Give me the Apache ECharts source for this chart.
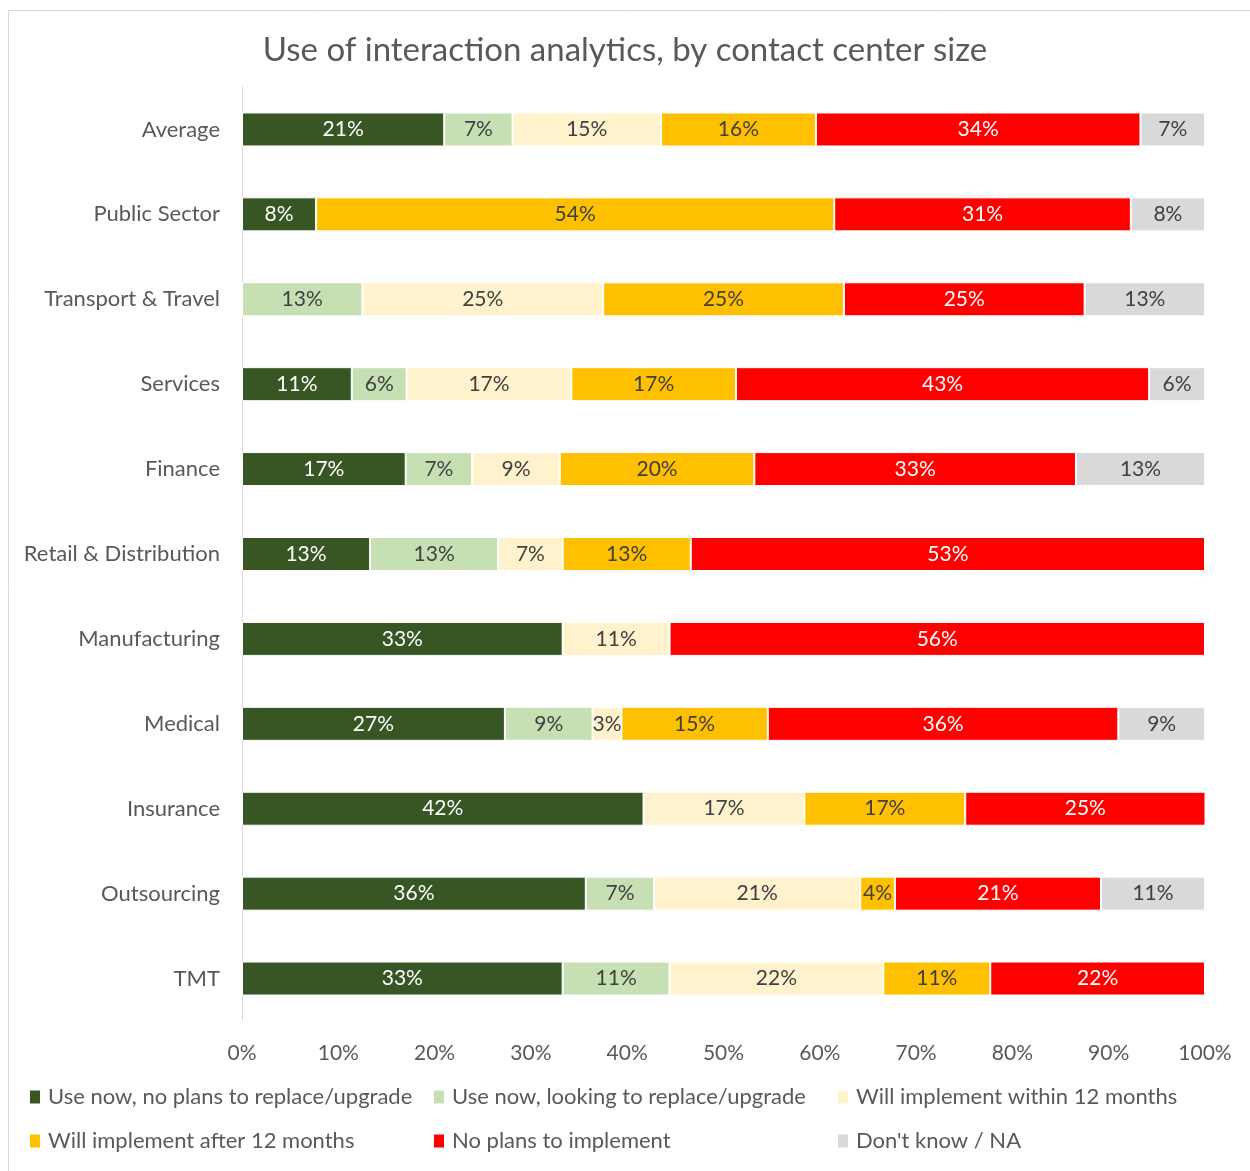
<!DOCTYPE html>
<html lang="en">
<head>
    <meta charset="UTF-8">
    <title>Use of interaction analytics</title>
    <script src="https://cdn.jsdelivr.net/npm/echarts@6/dist/echarts.min.js"></script>
    <style>
        html, body { margin: 0; padding: 0; background: #fff; }
        #main { width: 1250px; height: 1171px; }
    </style>
</head>
<body>
<div id="main"></div>
<script>
    // 行业（从上到下）
    var categories = ['Average', 'Public Sector', 'Transport & Travel', 'Services', 'Finance',
        'Retail & Distribution', 'Manufacturing', 'Medical', 'Insurance', 'Outsourcing', 'TMT'];
    var seriesNames = ['Use now, no plans to replace/upgrade', 'Use now, looking to replace/upgrade',
        'Will implement within 12 months', 'Will implement after 12 months',
        'No plans to implement', "Don't know / NA"];
    var colors = ['#375623', '#C6E0B4', '#FFF2CC', '#FFC000', '#FF0000', '#D9D9D9'];
    var labelColors = ['#ffffff', '#404040', '#404040', '#404040', '#ffffff', '#404040'];
    var xTicks = ['0%', '10%', '20%', '30%', '40%', '50%', '60%', '70%', '80%', '90%', '100%'];

    // 各系列数值（%）
    var useNoReplace = [21.0, 7.7, 0, 11.4, 17.0, 13.3, 33.3, 27.3, 41.7, 35.7, 33.3];
    var useReplace = [7.1, 0, 12.5, 5.7, 6.9, 13.3, 0, 9.1, 0, 7.1, 11.1];
    var within12 = [15.4, 0, 25.0, 17.1, 9.1, 6.7, 11.1, 3.0, 16.7, 21.4, 22.2];
    var after12 = [16.1, 53.8, 25.0, 17.1, 20.2, 13.3, 0, 15.2, 16.7, 3.6, 11.1];
    var noPlans = [33.7, 30.8, 25.0, 42.9, 33.4, 53.4, 55.6, 36.4, 25.0, 21.4, 22.3];
    var dontKnow = [6.7, 7.7, 12.5, 5.8, 13.4, 0, 0, 9.0, 0, 10.8, 0];
    var values = [useNoReplace, useReplace, within12, after12, noPlans, dontKnow];

    var font = 'Lato';
    var myChart = echarts.init(document.getElementById('main'));

    var series = [];
    for (var i = 0; i < seriesNames.length; i++) {
        series.push({
            name: seriesNames[i],
            type: 'bar',
            stack: 'total',
            barWidth: 34,
            data: values[i],
            itemStyle: {
                color: colors[i],
                borderColor: '#ffffff',
                borderWidth: 1
            },
            label: {
                show: true,
                position: 'inside',
                color: labelColors[i],
                fontFamily: font,
                fontSize: 21,
                formatter: function (p) {
                    if (!p.value) return '';
                    return Math.round(p.value) + '%';
                }
            },
            emphasis: { disabled: true }
        });
    }

    // 图例：两行三列，每项单独定位
    var legendLeft = [23, 427, 831];
    var legendTop = [1081, 1125];
    var legends = [];
    for (var j = 0; j < seriesNames.length; j++) {
        legends.push({
            top: legendTop[Math.floor(j / 3)],
            left: legendLeft[j % 3],
            itemWidth: 12,
            itemHeight: 15,
            itemGap: 0,
            icon: 'rect',
            data: [seriesNames[j]],
            textStyle: {
                fontFamily: font,
                fontSize: 22,
                color: '#595959',
                padding: [0, 0, 0, 2]
            }
        });
    }

    option = {
        backgroundColor: '#ffffff',
        animation: false,
        color: colors,
        title: {
            text: 'Use of interaction analytics, by contact center size',
            left: 'center',
            top: 29,
            textStyle: {
                fontFamily: font,
                fontSize: 33,
                fontWeight: 'normal',
                color: '#595959'
            }
        },
        graphic: [{
            type: 'rect',
            shape: { x: 8.5, y: 10.5, width: 1250, height: 1170 },
            style: { fill: 'none', stroke: '#d9d9d9', lineWidth: 1 }
        }],
        legend: legends,
        grid: {
            left: 242,
            right: 45,
            top: 87,
            bottom: 150,
            containLabel: false
        },
        xAxis: {
            type: 'value',
            min: 0,
            max: 100,
            interval: 10,
            splitLine: { show: false },
            axisLine: { show: false },
            axisTick: { show: false },
            axisLabel: {
                margin: 22,
                fontFamily: font,
                fontSize: 21,
                color: '#595959',
                formatter: function (v) { return xTicks[Math.round(v / 10)]; }
            }
        },
        yAxis: {
            type: 'category',
            inverse: true,
            data: categories,
            axisLine: { show: true, lineStyle: { color: '#d9d9d9', width: 1 } },
            axisTick: { show: false },
            axisLabel: {
                margin: 22,
                fontFamily: font,
                fontSize: 22,
                color: '#595959'
            }
        },
        series: series
    };
    myChart.setOption(option);
</script>
</body>
</html>
